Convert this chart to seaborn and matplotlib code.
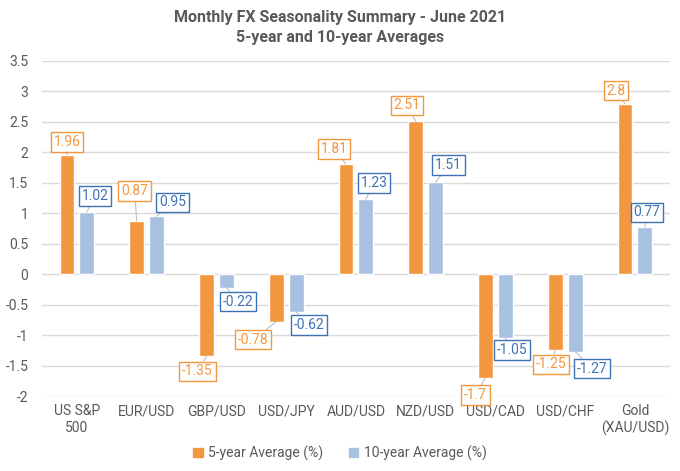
import matplotlib
matplotlib.use('Agg')
import matplotlib.pyplot as plt
import seaborn as sns
import pandas as pd
from matplotlib.patches import Patch

# Daten
categories = ['US S&P\n500', 'EUR/USD', 'GBP/USD', 'USD/JPY', 'AUD/USD',
              'NZD/USD', 'USD/CAD', 'USD/CHF', 'Gold\n(XAU/USD)']
avg_5y = [1.96, 0.87, -1.35, -0.78, 1.81, 2.51, -1.7, -1.25, 2.8]
avg_10y = [1.02, 0.95, -0.22, -0.62, 1.23, 1.51, -1.05, -1.27, 0.77]
series_names = ['5-year Average (%)', '10-year Average (%)']

# Label-Versatz (Pixel) je Balken
offsets_5y = [(0, 13), (-2, 30), (-9, -15), (-23, -18), (-12, 15),
              (-9, 16), (-10, -17), (-4, -14), (-9, 13)]
offsets_10y = [(8, 16), (16, 14), (12, -14), (13, -13), (8, 16),
               (13, 17), (7, -12), (17, -17), (2, 15)]

orange = '#F39640'
blue = '#A9C1E1'
blue_text = '#3E72B6'
grey = '#595959'

df = pd.DataFrame({
    'Kategorie': categories * 2,
    'Wert': avg_5y + avg_10y,
    'Serie': [series_names[0]] * len(categories) + [series_names[1]] * len(categories),
})

sns.set_style('white')
plt.rcParams['font.family'] = ['Roboto', 'DejaVu Sans']

fig = plt.figure(figsize=(6.8, 4.71), dpi=100)
ax = fig.add_axes([0.0618, 0.1592, 0.9232, 0.7113])

sns.barplot(data=df, x='Kategorie', y='Wert', hue='Serie',
            palette=[orange, blue], width=0.57, gap=0.25,
            legend=False, ax=ax, saturation=1)

ax.set_ylim(-2, 3.5)
ax.set_xlim(-0.5, len(categories) - 0.5)
ax.set_yticks([-2, -1.5, -1, -0.5, 0, 0.5, 1, 1.5, 2, 2.5, 3, 3.5])
ax.set_yticklabels(['-2', '-1.5', '-1', '-0.5', '0', '0.5', '1', '1.5', '2', '2.5', '3', '3.5'])
ax.yaxis.grid(True, color='#D9D9D9', lw=1)
ax.set_axisbelow(True)
for s in ax.spines.values():
    s.set_visible(False)
ax.tick_params(axis='y', length=0, pad=10, labelsize=10, labelcolor=grey)
ax.tick_params(axis='x', length=0, pad=6, labelsize=10, labelcolor=grey)
ax.set_xlabel('')
ax.set_ylabel('')

# Wertelabels mit Rahmen
label_styles = [(avg_5y, offsets_5y, orange, orange),
                (avg_10y, offsets_10y, blue_text, blue_text)]
for container, (vals, offs, tcol, ecol) in zip(ax.containers, label_styles):
    for bar, v, (dx, dy) in zip(container, vals, offs):
        x = bar.get_x() + bar.get_width() / 2
        ax.annotate(f'{v:g}', xy=(x, v), xytext=(dx, dy), textcoords='offset pixels',
                    ha='center', va='center', fontsize=10, color=tcol,
                    bbox=dict(boxstyle='square,pad=0.2', fc='white', ec=ecol, lw=1),
                    arrowprops=dict(arrowstyle='-', color='#BFBFBF', lw=0.8,
                                    shrinkA=0, shrinkB=0))

fig.text(0.5, 0.963, 'Monthly FX Seasonality Summary - June 2021',
         ha='center', va='center', fontsize=11.5, fontweight='bold', color=grey)
fig.text(0.5, 0.921, '5-year and 10-year Averages',
         ha='center', va='center', fontsize=11.5, fontweight='bold', color=grey)

handles = [Patch(color=orange), Patch(color=blue)]
fig.legend(handles, series_names, loc='center', bbox_to_anchor=(0.5, 0.038),
           ncol=2, frameon=False, fontsize=10, labelcolor=grey,
           handlelength=0.7, handleheight=0.7, handletextpad=0.4, columnspacing=1.8)

fig.savefig('out.png', dpi=100)
